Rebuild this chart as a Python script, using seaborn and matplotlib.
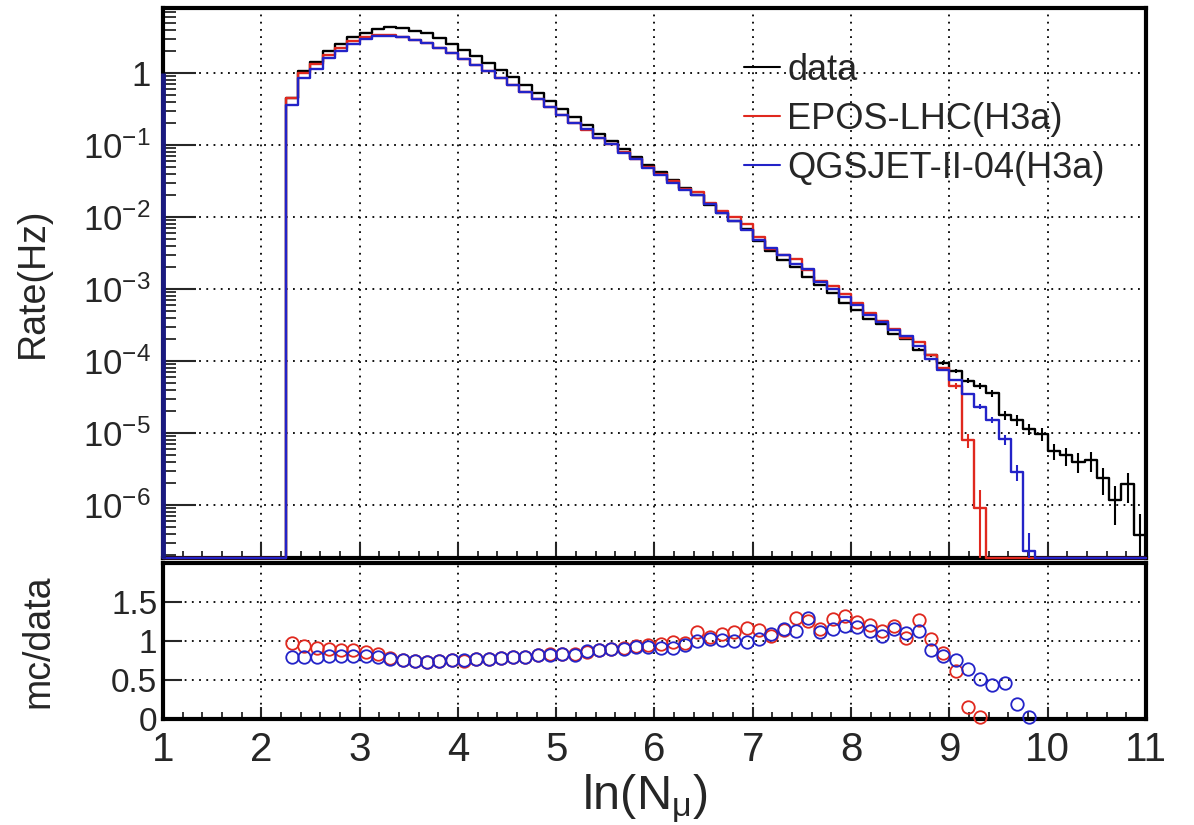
import numpy as np
import pandas as pd
import matplotlib
matplotlib.use("Agg")
import matplotlib.pyplot as plt
import seaborn as sns
from matplotlib.ticker import (LogLocator, MultipleLocator, FixedLocator,
                               FuncFormatter, NullFormatter, NullLocator)
from matplotlib.lines import Line2D

# ---------------------------------------------------------------------------
# Histogram binning in ln(N_mu): 80 bins of 0.125 between 1 and 11,
# the first filled bin starts at 2.25
x_lo, x_hi, bin_w = 1.0, 11.0, 0.125
first_filled = 2.25

# log10 of the rate (Hz) per bin, starting at the first filled bin
log_rate_data = [
    -0.34, 0.03, 0.16, 0.30, 0.40, 0.50, 0.56, 0.61, 0.635, 0.62,
    0.59, 0.55, 0.48, 0.40, 0.32, 0.23, 0.14, 0.04, -0.06, -0.17,
    -0.28, -0.385, -0.50, -0.61, -0.72, -0.84, -0.94, -1.06, -1.16, -1.28,
    -1.38, -1.49, -1.60, -1.70, -1.83, -1.95, -2.05, -2.17, -2.33, -2.47,
    -2.59, -2.70, -2.83, -2.95, -3.06, -3.19, -3.29, -3.41, -3.49, -3.63,
    -3.69, -3.84, -3.92, -4.03, -4.14, -4.27, -4.34, -4.45, -4.75, -4.82,
    -4.94, -5.01, -5.25, -5.31, -5.40, -5.38, -5.63, -5.93, -5.71, -6.42,
]
log_rate_epos = [
    -0.353, 0.003, 0.119, 0.254, 0.349, 0.444, 0.494, 0.529, 0.527, 0.501,
    0.459, 0.413, 0.352, 0.275, 0.189, 0.116, 0.026, -0.068, -0.162, -0.267,
    -0.366, -0.466, -0.576, -0.691, -0.786, -0.896, -0.986, -1.101, -1.187, -1.302,
    -1.398, -1.494, -1.609, -1.655, -1.809, -1.913, -2.001, -2.102, -2.273, -2.441,
    -2.533, -2.589, -2.730, -2.889, -2.953, -3.069, -3.197, -3.327, -3.437, -3.554,
    -3.673, -3.736, -3.911, -4.101, -4.348, -5.094, -6.04,
]
log_rate_qgsjet = [
    -0.437, -0.072, 0.058, 0.208, 0.308, 0.408, 0.468, 0.513, 0.521, 0.495,
    0.459, 0.413, 0.352, 0.275, 0.201, 0.116, 0.026, -0.068, -0.162, -0.267,
    -0.366, -0.471, -0.581, -0.696, -0.780, -0.896, -0.986, -1.106, -1.192, -1.316,
    -1.421, -1.531, -1.622, -1.700, -1.821, -1.946, -2.050, -2.174, -2.321, -2.433,
    -2.529, -2.647, -2.716, -2.901, -2.999, -3.114, -3.218, -3.357, -3.461, -3.569,
    -3.649, -3.787, -3.976, -4.122, -4.259, -4.464, -4.632, -4.817, -5.087, -5.541,
    -6.64,
]

# relative statistical errors in the high-multiplicity tail
data_err_from = 8.5
data_rel_err = [0.04, 0.045, 0.05, 0.06, 0.07, 0.085, 0.09, 0.10, 0.15, 0.16,
                0.18, 0.20, 0.26, 0.28, 0.31, 0.30, 0.41, 0.55, 0.45, 1.0]
epos_err_from = 9.0
epos_rel_err = [0.10, 0.22, 0.8]
qgsjet_err_from = 9.25
qgsjet_rel_err = [0.08, 0.10, 0.16, 0.25, 0.8]

series_labels = ["data", "EPOS-LHC(H3a)", "QGSJET-II-04(H3a)"]
series_colors = ["#000000", "#e0281e", "#2323c8"]

rate_ylim = (1.84e-7, 8.0)
ratio_ylim = (0.0, 2.0)

# ---------------------------------------------------------------------------
n_bins = int(round((x_hi - x_lo) / bin_w))
edges = x_lo + bin_w * np.arange(n_bins + 1)
centers = 0.5 * (edges[:-1] + edges[1:])
i0 = int(round((first_filled - x_lo) / bin_w))


def full_hist(log_vals):
    h = np.zeros(n_bins)
    v = 10.0 ** np.asarray(log_vals)
    h[i0:i0 + len(v)] = v
    return h


def full_err(h, start, rel):
    e = np.zeros(n_bins)
    j = int(round((start - x_lo) / bin_w))
    e[j:j + len(rel)] = np.asarray(rel) * h[j:j + len(rel)]
    return e


h_data = full_hist(log_rate_data)
h_epos = full_hist(log_rate_epos)
h_qgs = full_hist(log_rate_qgsjet)
e_data = full_err(h_data, data_err_from, data_rel_err)
e_epos = full_err(h_epos, epos_err_from, epos_rel_err)
e_qgs = full_err(h_qgs, qgsjet_err_from, qgsjet_rel_err)

sns.set_theme(style="white")
plt.rcParams["font.family"] = ["Liberation Sans", "DejaVu Sans"]
plt.rcParams["mathtext.fontset"] = "custom"
plt.rcParams["mathtext.rm"] = "Liberation Sans"
plt.rcParams["mathtext.it"] = "Liberation Sans"
plt.rcParams["mathtext.sf"] = "Liberation Sans"

fig = plt.figure(figsize=(11.94, 8.25), dpi=100)
fig.patch.set_facecolor("white")
ax = fig.add_axes([0.1365, 0.3236, 0.8233, 0.6667])
axr = fig.add_axes([0.1365, 0.1285, 0.8233, 0.1891])

grid_kw = dict(color="black", linestyle=(0, (1, 3)), linewidth=1.3)

# ---------------------------- rate histograms ------------------------------
floor = rate_ylim[0]
for h, e, col in [(h_data, e_data, series_colors[0]),
                  (h_epos, e_epos, series_colors[1]),
                  (h_qgs, e_qgs, series_colors[2])]:
    y = np.where(h > 0, h, floor)
    df = pd.DataFrame({"x": edges, "y": np.append(y, y[-1])})
    sns.lineplot(data=df, x="x", y="y", drawstyle="steps-post", estimator=None,
                 sort=False, color=col, linewidth=1.7, ax=ax, legend=False,
                 zorder=4, clip_on=False)
    m = e > 0
    lower = np.minimum(e[m], h[m] - floor * 1.0001)
    ax.errorbar(centers[m], h[m], yerr=[lower, e[m]], fmt="none",
                ecolor=col, elinewidth=1.5, capsize=0, zorder=4)

# the empty low-multiplicity range is drawn along the frame
ax.plot([x_lo, x_lo], [floor, 1.0], color="#1a1a80", linewidth=3.5,
        zorder=5, clip_on=False, solid_capstyle="butt")

ax.set_yscale("log")
ax.set_xlim(x_lo, x_hi)
ax.set_ylim(*rate_ylim)
ax.set_xlabel("")
ax.set_ylabel("Rate(Hz)", fontsize=27)
ax.yaxis.set_label_coords(-0.114, 0.5)

ax.yaxis.set_major_locator(LogLocator(base=10, numticks=20))
ax.yaxis.set_minor_locator(LogLocator(base=10, subs=np.arange(2, 10), numticks=20))
ax.yaxis.set_minor_formatter(NullFormatter())


def dec_fmt(v, pos):
    n = int(round(np.log10(v)))
    return "1" if n == 0 else r"$10^{%d}$" % n


ax.yaxis.set_major_formatter(FuncFormatter(dec_fmt))
ax.xaxis.set_major_locator(MultipleLocator(1))
ax.xaxis.set_minor_locator(MultipleLocator(0.2))
ax.tick_params(axis="y", which="major", direction="in", length=24, width=1.5,
               labelsize=25, pad=9, left=True, right=False)
ax.tick_params(axis="y", which="minor", direction="in", length=9, width=1.3,
               left=True, right=False)
ax.tick_params(axis="x", which="major", direction="in", length=11, width=1.5,
               labelbottom=False, bottom=True, top=False)
ax.tick_params(axis="x", which="minor", direction="in", length=5, width=1.3,
               bottom=True, top=False)
ax.grid(True, which="major", axis="both", **grid_kw)
ax.set_axisbelow(True)
for s in ax.spines.values():
    s.set_linewidth(3)
    s.set_color("black")

handles = [Line2D([], [], color=c, linewidth=1.5) for c in series_colors]
leg = ax.legend(handles, series_labels, loc="upper left",
                bbox_to_anchor=(0.591, 0.918), frameon=False, fontsize=26,
                handlelength=1.0, handletextpad=0.2, labelspacing=0.38,
                borderpad=0, borderaxespad=0)

# ------------------------------- ratio panel -------------------------------
for h, col in [(h_epos, series_colors[1]), (h_qgs, series_colors[2])]:
    m = (h > 0) & (h_data > 0)
    rdf = pd.DataFrame({"x": centers[m], "ratio": h[m] / h_data[m]})
    sns.lineplot(data=rdf, x="x", y="ratio", estimator=None, sort=False,
                 linestyle="", marker="o", markersize=9, markerfacecolor="none",
                 markeredgecolor=col, markeredgewidth=1.3, color=col,
                 ax=axr, legend=False, zorder=4, clip_on=False)

axr.set_xlim(x_lo, x_hi)
axr.set_ylim(*ratio_ylim)
axr.set_xlabel(r"ln(N$_{\mathrm{\mu}}$)", fontsize=35)
axr.xaxis.set_label_coords(0.49, -0.345)
axr.set_ylabel("mc/data", fontsize=27)
axr.yaxis.set_label_coords(-0.108, 0.5)
axr.xaxis.set_major_locator(MultipleLocator(1))
axr.xaxis.set_minor_locator(MultipleLocator(0.2))
axr.yaxis.set_major_locator(FixedLocator([0, 0.5, 1.0, 1.5]))
axr.yaxis.set_minor_locator(NullLocator())
axr.yaxis.set_major_formatter(FuncFormatter(lambda v, p: "%g" % v))
axr.tick_params(axis="y", which="major", direction="in", length=14, width=1.5,
                labelsize=24, pad=4, left=True, right=False)
axr.tick_params(axis="x", which="major", direction="in", length=9, width=1.5,
                labelsize=29, pad=9, bottom=True, top=False)
axr.tick_params(axis="x", which="minor", direction="in", length=5, width=1.3,
                bottom=True, top=False)
axr.grid(True, which="major", axis="both", **grid_kw)
axr.set_axisbelow(True)
for s in axr.spines.values():
    s.set_linewidth(3)
    s.set_color("black")

fig.savefig("out.png", dpi=100, facecolor="white")
